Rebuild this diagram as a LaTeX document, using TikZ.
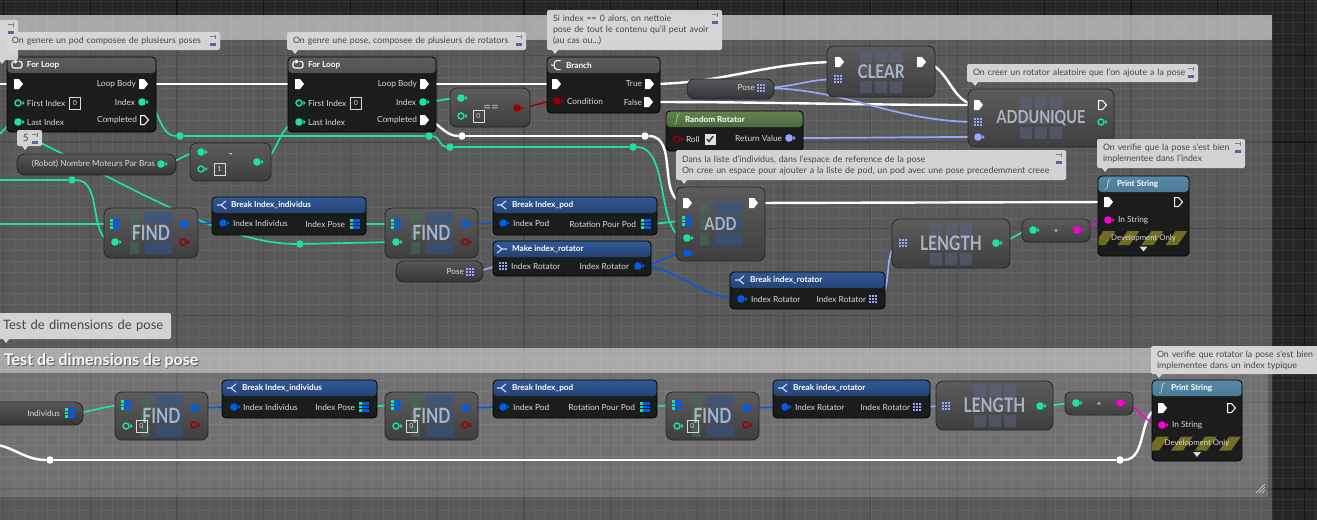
\documentclass[tikz,border=0pt]{standalone}
\usepackage{fontspec}
\setmainfont{Lato}
\usetikzlibrary{positioning, calc}

\definecolor{bgdark}{RGB}{38,38,38}
\definecolor{gridminor}{RGB}{52,52,52}
\definecolor{gridmajor}{RGB}{22,22,22}
\definecolor{intc}{RGB}{32,226,160}
\definecolor{structc}{RGB}{0,92,228}
\definecolor{rotc}{RGB}{152,166,255}
\definecolor{boolc}{RGB}{155,0,0}
\definecolor{strc}{RGB}{250,0,210}
\definecolor{nodebody}{RGB}{27,29,28}
\definecolor{loophtop}{RGB}{92,92,92}
\definecolor{loophbot}{RGB}{45,45,45}
\definecolor{purehtop}{RGB}{48,88,150}
\definecolor{purehbot}{RGB}{22,40,72}
\definecolor{funchtop}{RGB}{98,132,76}
\definecolor{funchbot}{RGB}{42,62,36}
\definecolor{printhtop}{RGB}{86,136,166}
\definecolor{printhbot}{RGB}{38,66,86}
\definecolor{compacttop}{RGB}{92,92,92}
\definecolor{compactbot}{RGB}{62,62,62}
\definecolor{vartop}{RGB}{88,88,92}
\definecolor{varbot}{RGB}{52,52,54}
\definecolor{cmtfill}{RGB}{216,216,216}
\definecolor{cmttext}{RGB}{70,70,70}
\definecolor{labelc}{RGB}{218,218,218}
\definecolor{bigtext}{RGB}{172,180,190}
\definecolor{devyellow}{RGB}{112,108,34}
\definecolor{findgreen}{RGB}{62,112,92}
\definecolor{findblue}{RGB}{50,84,140}
\definecolor{arricon}{RGB}{92,100,135}

\pgfdeclarelayer{bg}
\pgfdeclarelayer{wires}
\pgfsetlayers{bg,wires,main}

\newcommand\pinfont{\fontsize{8.3}{9.8}\selectfont}
\newcommand\cmtfont{\fontsize{8.8}{11}\selectfont}

\begin{document}
\begin{tikzpicture}[
    x=1pt, y=-1pt,
    every node/.style={inner sep=0pt, outer sep=0pt},
    minor line/.style={gridminor, line width=0.6pt},
    major line/.style={gridmajor, line width=1.3pt},
    frame/.style={anchor=north west, fill=white, fill opacity=#1},
    execwire/.style={white, line width=2.4pt},
    intwire/.style={intc, line width=1.7pt},
    structwire/.style={structc, line width=1.5pt},
    rotwire/.style={rotc, line width=1.7pt},
    boolwire/.style={boolc, line width=1.5pt},
    strwire/.style={strc, line width=1.5pt},
    knot/.style={circle, fill=#1, minimum size=7.5pt},
    cmt/.style={anchor=north west, fill=cmtfill, fill opacity=0.96, text opacity=1, rounded corners=2pt,
                text=cmttext, font=\cmtfont, align=left, inner xsep=6pt, inner ysep=3.5pt},
    bpnode/.style={anchor=north west, draw=black, line width=0.8pt, fill=nodebody, rounded corners=4pt},
    head/.style 2 args={path picture={\shade[top color=#1, bottom color=#2]
        (path picture bounding box.north west) rectangle ([yshift=-16pt]path picture bounding box.north east);}},
    title/.style={anchor=west, font=\bfseries\fontsize{8.2}{10}\selectfont, text=white},
    fsym/.style={font=\fontsize{13}{13}\selectfont, text=#1},
    compact/.style={anchor=north west, draw=black!85, line width=0.8pt, rounded corners=7pt,
                    top color=compacttop, bottom color=compactbot},
    varnode/.style={anchor=north west, draw=black!85, line width=0.8pt, rounded corners=8pt,
                    top color=vartop, bottom color=varbot},
    bigword/.style={font=\bfseries\fontsize{#1}{#1}\selectfont, text=bigtext},
    plabel/.style={font=\pinfont, text=labelc},
    valbox/.style={draw=labelc, line width=0.6pt, minimum width=11pt, minimum height=12pt,
                   font=\fontsize{7}{8}\selectfont, text=labelc},
    pics/execpin/.style={code={\fill[white] (-4,-5) -- (1,-5) -- (5,0) -- (1,5) -- (-4,5) -- cycle;}},
    pics/execopen/.style={code={\draw[white, line width=1pt, line join=round]
        (-3.5,-4.5) -- (0.5,-4.5) -- (4.5,0) -- (0.5,4.5) -- (-3.5,4.5) -- cycle;}},
    pics/datapin/.style={code={\fill[#1] (0,0) circle[radius=3.8pt];
        \fill[#1] (4.3,-2.2) -- (6.6,0) -- (4.3,2.2) -- cycle;}},
    pics/dataopen/.style={code={\draw[#1, line width=1.4pt] (0,0) circle[radius=3pt];
        \fill[#1] (4.3,-2.2) -- (6.6,0) -- (4.3,2.2) -- cycle;}},
    pics/arraypin/.style={code={\foreach \i in {-1,0,1} {\foreach \j in {-1,0,1}
        {\fill[#1] (\i*3.1-1.15,\j*3.1-1.15) rectangle ++(2.3,2.3);}}}},
    pics/structarr/.style={code={\foreach \j in {-1,0,1} {\fill[intc] (-5,\j*3.4-1.3) rectangle ++(2.6,2.6);
        \fill[structc] (-2,\j*3.4-1.3) rectangle ++(7,2.6);}}},
    pics/findicon/.style={code={\foreach \r in {-21,-6,9} {\fill[findgreen, opacity=0.55] (-21,\r) rectangle ++(9,12);
        \fill[findblue, opacity=0.6] (-6,\r) rectangle ++(27,12);}}},
    pics/arricon/.style={code={\foreach \c in {-21,-6,9} {\foreach \r in {-21,-6,9}
        {\fill[arricon, opacity=0.5] (\c,\r) rectangle ++(12,12);}}}},
    pics/devband/.style={code={\begin{scope}\clip (-#1,-7) rectangle (#1,7);
        \fill[black!90] (-#1,-7) rectangle (#1,7);
        \foreach \s in {-74,-50,...,70} {\fill[devyellow] (\s,7) -- (\s+12,7) -- (\s+22,-7) -- (\s+10,-7) -- cycle;}
        \end{scope}}},
    pics/checkbox/.style={code={\fill[labelc!85] (-5.5,-5.5) rectangle (5.5,5.5);
        \draw[black!80, line width=1.4pt] (-3,0) -- (-1,2.5) -- (3.2,-2.8);}},
    pics/loopicon/.style={code={\draw[white, line width=1.1pt, rounded corners=2pt]
        (1.5,-3.5) -- (5,-3.5) -- (5,3) -- (-5,3) -- (-5,-3.5) -- (-2,-3.5);
        \fill[white] (-2.5,-6) -- (0.8,-3.5) -- (-2.5,-1) -- cycle;}},
    pics/branchicon/.style={code={\draw[white, line width=1pt] (4.5,-4.5) -- (1,-4.5)
        to[out=180, in=90] (-2,0) to[out=-90, in=180] (1,4.5) -- (4.5,4.5) (-5,0) -- (-2,0);}},
    pics/breakicon/.style={code={\draw[white!85!blue, line width=1.1pt] (4,-4) -- (-1,0) -- (4,4) (-5,0) -- (-1,0);}},
    pics/makeicon/.style={code={\draw[white!85!blue, line width=1.1pt] (-5,-4) -- (0,0) -- (-5,4) (0,0) -- (5,0);}},
    pics/cmticons/.style={code={\draw[gray, line width=0.7pt] (-10,4.5) -- (-5,4.5) (-4.3,2.5) -- (-4.3,6.5);
        \fill[blue!25!gray] (-10,11) rectangle (-4,14);}}
  ]
  \useasboundingbox (0,0) rectangle (1317,520);

  % grid and comment frames
  \begin{pgfonlayer}{bg}
    \fill[bgdark] (0,0) rectangle (1317,520);
    \foreach \k in {-1,...,121}
      \draw[minor line] ({3.6+\k*10.84},0) -- ++(0,520);
    \foreach \k in {-6,...,43}
      \draw[minor line] (0,{55.3+\k*10.84}) -- ++(1317,0);
    \foreach \k in {0,...,15}
      \draw[major line] ({3.6+\k*86.72},0) -- ++(0,520);
    \foreach \k in {-1,...,5}
      \draw[major line] (0,{55.3+\k*86.72}) -- ++(1317,0);
    \node[frame=0.24, minimum width=1282pt, minimum height=520pt] (podframe) at (-10,15) {};
    \fill[white, opacity=0.48] (podframe.north west) rectangle ([yshift=-25pt]podframe.north east);
    \node[frame=0.15, minimum width=1278pt, minimum height=149pt] (testframe) at (-10,348) {};
    \fill[white, opacity=0.4] (testframe.north west) rectangle ([yshift=-25pt]testframe.north east);
    \foreach \d in {3,6,9}
      \draw[white!70!gray, line width=0.5pt] (1265-\d,493) -- (1265,493-\d);
  \end{pgfonlayer}

  \node[anchor=west, font=\bfseries\fontsize{16}{16}\selectfont, text=black, opacity=0.45] (testtitleshadow) at (5,362) {Test de dimensions de pose};
  \node[anchor=west, font=\bfseries\fontsize{16}{16}\selectfont, text=white!94!gray] (testtitle) at (4,361) {Test de dimensions de pose};

  % ---------- pod loop ----------
  \node[bpnode, head={loophtop}{loophbot}, minimum width=149pt, minimum height=75pt] (fl1) at (7,57) {};
  \pic at (17,65) {loopicon};
  \node[title] (fl1t) at (27,65) {For Loop};
  \foreach \n/\px/\py in {fl1in/18/84, fl1body/143/84, fl1first/18/103, fl1index/142/102, fl1last/18/122, fl1done/144/120}
    \coordinate (\n) at (\px,\py);
  \node[plabel, left=7pt of fl1body] (fl1bodyl) {Loop Body};
  \node[plabel, right=9pt of fl1first] (fl1firstl) {First Index};
  \node[valbox, right=4pt of fl1firstl] (fl1firstv) {0};
  \node[plabel, left=7pt of fl1index] (fl1indexl) {Index};
  \node[plabel, right=9pt of fl1last] (fl1lastl) {Last Index};
  \node[plabel, left=7pt of fl1done] (fl1donel) {Completed};

  \node[varnode, minimum width=159pt, minimum height=21pt] (nmpb) at (17,154) {};
  \coordinate (nmpbout) at (161,164);
  \node[plabel, left=6pt of nmpbout] (nmpbl) {(Robot) Nombre Moteurs Par Bras};

  \node[compact, minimum width=81pt, minimum height=38pt] (sub) at (190,143) {};
  \foreach \n/\px/\py in {subA/201/152, subB/201/169, subout/257/162}
    \coordinate (\n) at (\px,\py);
  \node[valbox, right=13pt of subB] (subBv) {1};
  \node[font=\bfseries\fontsize{11}{11}\selectfont, text=labelc] (subop) at (231,156) {-};

  % ---------- pose loop ----------
  \node[bpnode, head={loophtop}{loophbot}, minimum width=148pt, minimum height=75pt] (fl2) at (288,57) {};
  \pic at (298,65) {loopicon};
  \node[title] (fl2t) at (308,65) {For Loop};
  \foreach \n/\px/\py in {fl2in/299/84, fl2body/424/84, fl2first/299/103, fl2index/423/102, fl2last/299/122, fl2done/424/120}
    \coordinate (\n) at (\px,\py);
  \node[plabel, left=7pt of fl2body] (fl2bodyl) {Loop Body};
  \node[plabel, right=9pt of fl2first] (fl2firstl) {First Index};
  \node[valbox, right=4pt of fl2firstl] (fl2firstv) {0};
  \node[plabel, left=7pt of fl2index] (fl2indexl) {Index};
  \node[plabel, right=9pt of fl2last] (fl2lastl) {Last Index};
  \node[plabel, left=7pt of fl2done] (fl2donel) {Completed};

  \node[compact, minimum width=80pt, minimum height=39pt] (eq) at (450,88) {};
  \foreach \n/\px/\py in {eqA/461/98, eqB/461/116, eqout/517/108}
    \coordinate (\n) at (\px,\py);
  \node[valbox, right=12pt of eqB] (eqBv) {0};
  \node[font=\bfseries\fontsize{13}{13}\selectfont, text=gray!70] (eqop) at (491,108) {==};

  \node[bpnode, head={loophtop}{loophbot}, minimum width=113pt, minimum height=56pt] (br) at (547,57) {};
  \pic at (556,65) {branchicon};
  \node[title] (brt) at (566,65) {Branch};
  \foreach \n/\px/\py in {brin/556/84, brtrue/649/84, brcond/557/101, brfalse/648/102}
    \coordinate (\n) at (\px,\py);
  \node[plabel, left=7pt of brtrue] (brtruel) {True};
  \node[plabel, right=10pt of brcond] (brcondl) {Condition};
  \node[plabel, left=6pt of brfalse] (brfalsel) {False};

  \node[varnode, minimum width=87pt, minimum height=20pt] (pose1) at (687,79) {};
  \coordinate (pose1out) at (761,88);
  \node[plabel, left=6pt of pose1out] (pose1l) {Pose};

  \node[compact, minimum width=108pt, minimum height=51pt] (clr) at (827,46) {};
  \pic at (clr.center) {arricon};
  \node[bigword=19] (clrw) at (clr.center) {\scalebox{0.8}[1]{CLEAR}};
  \foreach \n/\px/\py in {clrin/839/62, clrarr/838/79, clrout/921/62}
    \coordinate (\n) at (\px,\py);

  \node[bpnode, head={funchtop}{funchbot}, minimum width=137pt, minimum height=40pt] (rr) at (666,111) {};
  \node[fsym=green!60!white] (rrf) at (677,119) {$f$};
  \node[title] (rrt) at (685,119) {Random Rotator};
  \foreach \n/\px/\py in {rrroll/677/139, rrret/789/138}
    \coordinate (\n) at (\px,\py);
  \node[plabel, right=9pt of rrroll] (rrrolll) {Roll};
  \pic at (710,139) {checkbox};
  \node[plabel, left=7pt of rrret] (rrretl) {Return Value};

  \node[compact, minimum width=146pt, minimum height=58pt] (addu) at (968,89) {};
  \pic at (addu.center) {arricon};
  \node[bigword=18] (adduw) at (addu.center) {\scalebox{0.8}[1]{ADDUNIQUE}};
  \foreach \n/\px/\py in {adduin/978/105, adduarr/978/122, adduelem/978/137, adduout/1102/105, addures/1101/122}
    \coordinate (\n) at (\px,\py);

  % ---------- pod construction ----------
  \node[compact, minimum width=94pt, minimum height=50pt] (find1) at (104,208) {};
  \pic at (find1.center) {findicon};
  \node[bigword=21] (find1w) at (find1.center) {\scalebox{0.76}[1]{FIND}};
  \foreach \n/\px/\py in {find1arr/115/224, find1item/115/242, find1out/183/224, find1ok/183/242}
    \coordinate (\n) at (\px,\py);

  \node[bpnode, head={purehtop}{purehbot}, minimum width=154pt, minimum height=38pt] (bii1) at (212,197) {};
  \pic at (222,205) {breakicon};
  \node[title] (bii1t) at (231,205) {Break Index\_individus};
  \foreach \n/\px/\py in {bii1in/223/223, bii1out/355/224}
    \coordinate (\n) at (\px,\py);
  \node[plabel, right=10pt of bii1in] (bii1inl) {Index Individus};
  \node[plabel, left=10pt of bii1out] (bii1outl) {Index Pose};

  \node[compact, minimum width=93pt, minimum height=50pt] (find2) at (385,208) {};
  \pic at (find2.center) {findicon};
  \node[bigword=21] (find2w) at (find2.center) {\scalebox{0.76}[1]{FIND}};
  \foreach \n/\px/\py in {find2arr/396/224, find2item/396/242, find2out/465/224, find2ok/465/242}
    \coordinate (\n) at (\px,\py);

  \node[bpnode, head={purehtop}{purehbot}, minimum width=164pt, minimum height=38pt] (bip1) at (493,197) {};
  \pic at (502,205) {breakicon};
  \node[title] (bip1t) at (512,205) {Break Index\_pod};
  \foreach \n/\px/\py in {bip1in/503/223, bip1out/646/224}
    \coordinate (\n) at (\px,\py);
  \node[plabel, right=10pt of bip1in] (bip1inl) {Index Pod};
  \node[plabel, left=10pt of bip1out] (bip1outl) {Rotation Pour Pod};

  \node[bpnode, head={purehtop}{purehbot}, minimum width=158pt, minimum height=35pt] (mir) at (493,241) {};
  \pic at (502,249) {makeicon};
  \node[title] (mirt) at (512,249) {Make index\_rotator};
  \foreach \n/\px/\py in {mirin/503/266, mirout/638/266}
    \coordinate (\n) at (\px,\py);
  \node[plabel, right=8pt of mirin] (mirinl) {Index Rotator};
  \node[plabel, left=9pt of mirout] (miroutl) {Index Rotator};

  \node[varnode, minimum width=87pt, minimum height=21pt] (pose2) at (396,261) {};
  \coordinate (pose2out) at (470,272);
  \node[plabel, left=6pt of pose2out] (pose2l) {Pose};

  \node[compact, minimum width=89pt, minimum height=74pt] (add) at (676,187) {};
  \pic at (add.center) {findicon};
  \node[bigword=18] (addw) at (add.center) {\scalebox{0.8}[1]{ADD}};
  \foreach \n/\px/\py in {addin/687/203, addarr/687/221, additem/687/238, addrot/687/253, addout/753/203}
    \coordinate (\n) at (\px,\py);

  \node[bpnode, head={purehtop}{purehbot}, minimum width=155pt, minimum height=37pt] (bir1) at (730,272) {};
  \pic at (740,280) {breakicon};
  \node[title] (bir1t) at (750,280) {Break index\_rotator};
  \foreach \n/\px/\py in {bir1in/741/299, bir1out/873/299}
    \coordinate (\n) at (\px,\py);
  \node[plabel, right=10pt of bir1in] (bir1inl) {Index Rotator};
  \node[plabel, left=7pt of bir1out] (bir1outl) {Index Rotator};

  \node[compact, minimum width=118pt, minimum height=49pt] (len1) at (892,219) {};
  \pic at (len1.center) {arricon};
  \node[bigword=20] (len1w) at (len1.center) {\scalebox{0.78}[1]{LENGTH}};
  \foreach \n/\px/\py in {len1in/903/243, len1out/996/243}
    \coordinate (\n) at (\px,\py);

  \node[compact, rounded corners=6pt, minimum width=68pt, minimum height=23pt] (conv1) at (1022,219) {};
  \fill[gray!80] (conv1.center) circle[radius=1.8pt];
  \foreach \n/\px/\py in {conv1in/1033/230, conv1out/1077/230}
    \coordinate (\n) at (\px,\py);

  \node[bpnode, head={printhtop}{printhbot}, minimum width=91pt, minimum height=80pt] (ps1) at (1098,176) {};
  \node[fsym=cyan!30!white] (ps1f) at (1108,184) {$f$};
  \node[title] (ps1t) at (1117,184) {Print String};
  \foreach \n/\px/\py in {ps1in/1108/202, ps1out/1178/202, ps1str/1108/220}
    \coordinate (\n) at (\px,\py);
  \node[plabel, right=10pt of ps1str] (ps1strl) {In String};
  \pic at (1143.5,238) {devband=45};
  \node[font=\fontsize{7.8}{8}\selectfont, text=labelc] (ps1dev) at (1143.5,238) {Development Only};
  \fill[labelc] (1139.5,246.5) -- (1147.5,246.5) -- (1143.5,251.5) -- cycle;

  % ---------- test ----------
  \node[varnode, minimum width=95pt, minimum height=23pt] (indiv) at (-12,402) {};
  \coordinate (indivout) at (70,413);
  \node[plabel, left=10pt of indivout] (indivl) {Individus};

  \node[compact, minimum width=93pt, minimum height=48pt] (findb1) at (115,392) {};
  \pic at (findb1.center) {findicon};
  \node[bigword=21] (findb1w) at (findb1.center) {\scalebox{0.76}[1]{FIND}};
  \foreach \n/\px/\py in {findb1arr/126/405, findb1item/126/426, findb1out/194/408, findb1ok/194/425}
    \coordinate (\n) at (\px,\py);
  \node[valbox, right=10pt of findb1item] (findb1v) {0};

  \node[bpnode, head={purehtop}{purehbot}, minimum width=155pt, minimum height=38pt] (bii2) at (222,380) {};
  \pic at (232,388) {breakicon};
  \node[title] (bii2t) at (242,388) {Break Index\_individus};
  \foreach \n/\px/\py in {bii2in/234/407, bii2out/364/407}
    \coordinate (\n) at (\px,\py);
  \node[plabel, right=9pt of bii2in] (bii2inl) {Index Individus};
  \node[plabel, left=9pt of bii2out] (bii2outl) {Index Pose};

  \node[compact, minimum width=93pt, minimum height=48pt] (findb2) at (385,392) {};
  \pic at (findb2.center) {findicon};
  \node[bigword=21] (findb2w) at (findb2.center) {\scalebox{0.76}[1]{FIND}};
  \foreach \n/\px/\py in {findb2arr/396/405, findb2item/396/426, findb2out/465/408, findb2ok/465/425}
    \coordinate (\n) at (\px,\py);
  \node[valbox, right=10pt of findb2item] (findb2v) {0};

  \node[bpnode, head={purehtop}{purehbot}, minimum width=164pt, minimum height=38pt] (bip2) at (493,380) {};
  \pic at (502,388) {breakicon};
  \node[title] (bip2t) at (512,388) {Break Index\_pod};
  \foreach \n/\px/\py in {bip2in/503/407, bip2out/645/407}
    \coordinate (\n) at (\px,\py);
  \node[plabel, right=10pt of bip2in] (bip2inl) {Index Pod};
  \node[plabel, left=10pt of bip2out] (bip2outl) {Rotation Pour Pod};

  \node[compact, minimum width=93pt, minimum height=48pt] (findb3) at (666,392) {};
  \pic at (findb3.center) {findicon};
  \node[bigword=21] (findb3w) at (findb3.center) {\scalebox{0.76}[1]{FIND}};
  \foreach \n/\px/\py in {findb3arr/677/405, findb3item/677/426, findb3out/746/408, findb3ok/746/425}
    \coordinate (\n) at (\px,\py);
  \node[valbox, right=10pt of findb3item] (findb3v) {0};

  \node[bpnode, head={purehtop}{purehbot}, minimum width=157pt, minimum height=38pt] (bir2) at (773,380) {};
  \pic at (783,388) {breakicon};
  \node[title] (bir2t) at (793,388) {Break index\_rotator};
  \foreach \n/\px/\py in {bir2in/785/407, bir2out/917/407}
    \coordinate (\n) at (\px,\py);
  \node[plabel, right=10pt of bir2in] (bir2inl) {Index Rotator};
  \node[plabel, left=7pt of bir2out] (bir2outl) {Index Rotator};

  \node[compact, minimum width=117pt, minimum height=49pt] (len2) at (936,381) {};
  \pic at (len2.center) {arricon};
  \node[bigword=20] (len2w) at (len2.center) {\scalebox{0.78}[1]{LENGTH}};
  \foreach \n/\px/\py in {len2in/946/406, len2out/1040/406}
    \coordinate (\n) at (\px,\py);

  \node[compact, rounded corners=6pt, minimum width=68pt, minimum height=23pt] (conv2) at (1065,392) {};
  \fill[gray!80] (conv2.center) circle[radius=1.8pt];
  \foreach \n/\px/\py in {conv2in/1076/403, conv2out/1120/403}
    \coordinate (\n) at (\px,\py);

  \node[bpnode, head={printhtop}{printhbot}, minimum width=90pt, minimum height=81pt] (ps2) at (1152,380) {};
  \node[fsym=cyan!30!white] (ps2f) at (1162,388) {$f$};
  \node[title] (ps2t) at (1171,388) {Print String};
  \foreach \n/\px/\py in {ps2in/1162/408, ps2out/1231/408, ps2str/1162/425}
    \coordinate (\n) at (\px,\py);
  \node[plabel, right=10pt of ps2str] (ps2strl) {In String};
  \pic at (1197,443.5) {devband=45};
  \node[font=\fontsize{7.8}{8}\selectfont, text=labelc] (ps2dev) at (1197,443.5) {Development Only};
  \fill[labelc] (1193,452) -- (1201,452) -- (1197,457) -- cycle;

  % reroute knots and loose wire ends
  \foreach \n/\c/\px/\py in {k1/intc/180/136, k2/intc/429/136, k3/intc/450/147, k4/intc/633/147,
                            k5/intc/72/180, k6/intc/300/244, kw1/white/462/136, kw2/white/645/136,
                            kw3/white/50/460, kw4/white/1120/460}
    \node[knot=\c] (\n) at (\px,\py) {};
  \foreach \n/\px/\py in {lin0/-5/84, lin1/0/134, lin2/20/133, lin3/-5/180, lin4/-5/224, lin5/-12/444}
    \coordinate (\n) at (\px,\py);

  % comments
  \node[cmt, text width=12pt, minimum height=40pt] (cmtcut) at (-6,20) {};
  \node[cmt, text width=202pt, minimum height=18pt] (cpod) at (6,32) {On genere un pod composee de plusieurs poses};
  \node[cmt, text width=227pt, minimum height=18pt] (cpose) at (287,32) {On genre une pose, composee de plusieurs de rotators};
  \node[cmt, text width=163pt, minimum height=40pt] (cbranch) at (547,10) {Si index == 0 alors, on nettoie\\pose de tout le contenu qu'il peut avoir\\(au cas ou...)};
  \node[cmt, text width=219pt, minimum height=18pt] (crot) at (967,64) {On creer un rotator aleatoire que l'on ajoute a la pose};
  \node[cmt, text width=378pt, minimum height=30pt] (cadd) at (676,150) {Dans la liste d'individus, dans l'espace de reference de la pose\\On cree un espace pour ajouter a la liste de pod, un pod avec une pose precedemment creee};
  \node[cmt, text width=136pt, minimum height=29pt] (cchk) at (1097,139) {On verifie que la pose s'est bien\\implementee dans l'index};
  \node[cmt, text width=13pt, minimum height=16pt, font=\fontsize{10}{10}\selectfont] (cfive) at (17,130) {5};
  \node[cmt, text width=163pt, minimum height=26pt, font=\fontsize{13}{14}\selectfont, inner xsep=5pt] (ctest) at (-2,313) {Test de dimensions de pose};
  \node[cmt, text width=167pt, minimum height=28pt] (cchkb) at (1151,346) {On verifie que rotator la pose s'est bien\\implementee dans un index typique};
  \foreach \c in {cmtcut,cpod,cpose,cbranch,crot,cadd,cchk,cfive}
    \pic at (\c.north east) {cmticons};
  \foreach \c in {cmtcut,cpod,cpose,cbranch,crot,cadd,cchk,cfive,ctest,cchkb}
    \fill[cmtfill] ([xshift=5pt]\c.south west) -- ++(6,0) -- ++(-3,4) -- cycle;

  % pins
  \foreach \p in {fl1in,fl1body,fl2in,fl2body,fl2done,brin,brtrue,brfalse,clrin,clrout,adduin,addin,addout,ps1in,ps2in}
    \pic at (\p) {execpin};
  \foreach \p in {fl1done,adduout,ps1out,ps2out}
    \pic at (\p) {execopen};
  \foreach \p in {fl1index,fl1last,fl2index,fl2last,subA,subout,nmpbout,eqA,find1item,find2item,additem,len1out,conv1in,len2out,conv2in}
    \pic at (\p) {datapin=intc};
  \foreach \p in {fl1first,fl2first,subB,eqB,addures,findb1item,findb2item,findb3item}
    \pic at (\p) {dataopen=intc};
  \foreach \p in {eqout,brcond}
    \pic at (\p) {datapin=boolc};
  \foreach \p in {rrroll,find1ok,find2ok,findb1ok,findb2ok,findb3ok}
    \pic at (\p) {dataopen=boolc};
  \foreach \p in {find1out,bii1in,find2out,bip1in,mirout,addrot,bir1in,findb1out,bii2in,findb2out,bip2in,findb3out,bir2in}
    \pic at (\p) {datapin=structc};
  \foreach \p in {rrret,adduelem}
    \pic at (\p) {datapin=rotc};
  \foreach \p in {pose1out,clrarr,adduarr,pose2out,mirin,bir1out,len1in,bir2out,len2in}
    \pic at (\p) {arraypin=rotc};
  \foreach \p in {find1arr,bii1out,find2arr,bip1out,addarr,indivout,findb1arr,bii2out,findb2arr,bip2out,findb3arr}
    \pic at (\p) {structarr};
  \foreach \p in {conv1out,ps1str,conv2out,ps2str}
    \pic at (\p) {datapin=strc};

  % wires
  \begin{pgfonlayer}{wires}
    \draw[execwire] (lin0) -- (fl1in);
    \draw[execwire] (fl1body) -- (fl2in);
    \draw[execwire] (fl2body) -- (brin);
    \draw[execwire] (brtrue) to[out=0, in=180] (clrin);
    \draw[execwire] (brfalse) to[out=0, in=180] (adduin);
    \draw[execwire] (clrout) to[out=0, in=180] (adduin);
    \draw[execwire] (fl2done) to[out=0, in=180] (kw1);
    \draw[execwire] (kw1) -- (kw2);
    \draw[execwire] (kw2) .. controls +(35,0) and +(-32,0) .. (addin);
    \draw[execwire] (addout) -- (ps1in);
    \draw[execwire] (lin5) to[out=0, in=180] (kw3);
    \draw[execwire] (kw3) -- (kw4);
    \draw[execwire] (kw4) to[out=0, in=180] (ps2in);

    \draw[intwire] (lin1) .. controls (9,124) .. (fl1last);
    \draw[intwire] (lin2) .. controls (120,180) and (220,244) .. (k6);
    \draw[intwire] (k6) -- (find2item);
    \draw[intwire] (lin3) -- (k5);
    \draw[intwire] (k5) to[out=0, in=180] (find1item);
    \draw[intwire] (lin4) -- (find1arr);
    \draw[intwire] (fl1index) to[out=0, in=180] (k1);
    \draw[intwire] (k1) -- (k2);
    \draw[intwire] (k2) to[out=0, in=180] (k3);
    \draw[intwire] (k3) -- (k4);
    \draw[intwire] (k4) .. controls +(38,0) and +(-32,0) .. (additem);
    \draw[intwire] (nmpbout) to[out=0, in=180] (subA);
    \draw[intwire] (subout) to[out=0, in=180] (fl2last);
    \draw[intwire] (fl2index) to[out=0, in=180] (eqA);
    \draw[intwire] (bii1out) -- (find2arr);
    \draw[intwire] (bip1out) to[out=0, in=180] (addarr);
    \draw[intwire] (len1out) to[out=0, in=180] (conv1in);
    \draw[intwire] (indivout) to[out=0, in=180] (findb1arr);
    \draw[intwire] (bii2out) to[out=0, in=180] (findb2arr);
    \draw[intwire] (bip2out) to[out=0, in=180] (findb3arr);
    \draw[intwire] (len2out) to[out=0, in=180] (conv2in);

    \draw[structwire] (find1out) -- (bii1in);
    \draw[structwire] (find2out) -- (bip1in);
    \draw[structwire] (mirout) to[out=0, in=180] (addrot);
    \draw[structwire] (mirout) to[out=0, in=180] (bir1in);
    \draw[structwire] (findb1out) to[out=0, in=180] (bii2in);
    \draw[structwire] (findb2out) to[out=0, in=180] (bip2in);
    \draw[structwire] (findb3out) to[out=0, in=180] (bir2in);

    \draw[rotwire] (pose1out) to[out=0, in=180] (clrarr);
    \draw[rotwire] (pose1out) to[out=0, in=180] (adduarr);
    \draw[rotwire] (rrret) to[out=0, in=180] (adduelem);
    \draw[rotwire] (pose2out) to[out=0, in=180] (mirin);
    \draw[rotwire] (bir1out) to[out=0, in=180] (len1in);
    \draw[rotwire] (bir2out) to[out=0, in=180] (len2in);

    \draw[boolwire] (eqout) to[out=0, in=180] (brcond);
    \draw[strwire] (conv1out) to[out=0, in=180] (ps1str);
    \draw[strwire] (conv2out) to[out=0, in=180] (ps2str);
  \end{pgfonlayer}
\end{tikzpicture}
\end{document}
